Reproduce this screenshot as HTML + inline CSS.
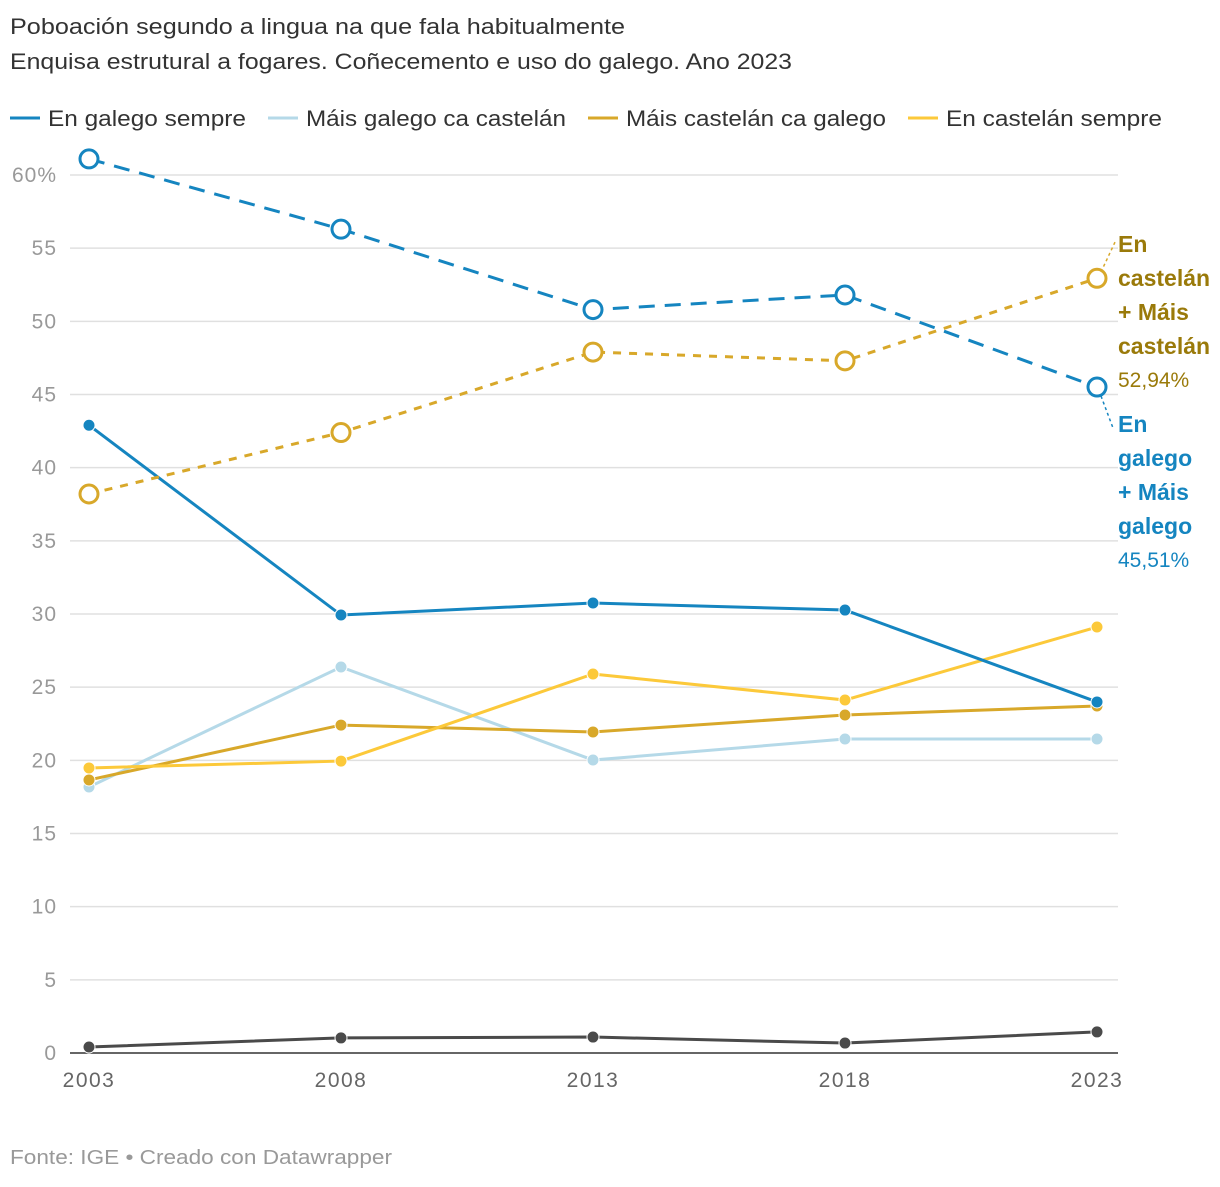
<!DOCTYPE html>
<html><head><meta charset="utf-8"><style>
body{margin:0;background:#fff;font-family:"Liberation Sans",sans-serif;}
svg text{font-family:"Liberation Sans",sans-serif;}
</style></head><body>
<svg id="c" width="1220" height="1182">
<text x="10" y="34" font-size="22" fill="#333" textLength="615" lengthAdjust="spacingAndGlyphs">Poboación segundo a lingua na que fala habitualmente</text>
<text x="10" y="69" font-size="22" fill="#333" textLength="782" lengthAdjust="spacingAndGlyphs">Enquisa estrutural a fogares. Coñecemento e uso do galego. Ano 2023</text>
<g>
<line x1="10" y1="118" x2="40" y2="118" stroke="#1585c0" stroke-width="3"/><text x="48" y="126" font-size="22" fill="#333" textLength="198" lengthAdjust="spacingAndGlyphs">En galego sempre</text>
<line x1="268" y1="118" x2="298" y2="118" stroke="#b5d9e8" stroke-width="3"/><text x="306" y="126" font-size="22" fill="#333" textLength="260" lengthAdjust="spacingAndGlyphs">Máis galego ca castelán</text>
<line x1="588" y1="118" x2="618" y2="118" stroke="#d8a82a" stroke-width="3"/><text x="626" y="126" font-size="22" fill="#333" textLength="260" lengthAdjust="spacingAndGlyphs">Máis castelán ca galego</text>
<line x1="908" y1="118" x2="938" y2="118" stroke="#fcc93a" stroke-width="3"/><text x="946" y="126" font-size="22" fill="#333" textLength="216" lengthAdjust="spacingAndGlyphs">En castelán sempre</text>
</g>
<g id="grid"></g><g id="marks"></g>
<text x="10" y="1164" font-size="20" fill="#999" textLength="382" lengthAdjust="spacingAndGlyphs">Fonte: IGE • Creado con Datawrapper</text>
<g font-size="23">
<text x="1118" y="252" fill="#9a7a0a" font-weight="bold">En</text>
<text x="1118" y="286" fill="#9a7a0a" font-weight="bold">castelán</text>
<text x="1118" y="320" fill="#9a7a0a" font-weight="bold">+ Máis</text>
<text x="1118" y="354" fill="#9a7a0a" font-weight="bold">castelán</text>
<text x="1118" y="387" fill="#9a7a0a" font-size="21">52,94%</text>
</g>
<g font-size="23">
<text x="1118" y="432" fill="#1585c0" font-weight="bold">En</text>
<text x="1118" y="466" fill="#1585c0" font-weight="bold">galego</text>
<text x="1118" y="500" fill="#1585c0" font-weight="bold">+ Máis</text>
<text x="1118" y="534" fill="#1585c0" font-weight="bold">galego</text>
<text x="1118" y="567" fill="#1585c0" font-size="21">45,51%</text>
</g>
<line x1="1101" y1="272" x2="1116" y2="240" stroke="#d8a82a" stroke-width="1.5" stroke-dasharray="3,3"/>
<line x1="1101" y1="396" x2="1113" y2="428" stroke="#1585c0" stroke-width="1.5" stroke-dasharray="3,3"/>
</svg>
<script>
const years=["2003","2008","2013","2018","2023"];
const yTicks=[0,5,10,15,20,25,30,35,40,45,50,55,60];
const galegoSempre=[42.9,29.93,30.75,30.27,23.99];
const maisGalego=[18.18,26.38,20.02,21.46,21.46];
const maisCastelan=[18.66,22.41,21.94,23.1,23.71];
const castelanSempre=[19.48,19.95,25.9,24.12,29.11];
const outras=[0.41,1.03,1.09,0.68,1.44];
const sumGalego=[61.1,56.3,50.8,51.8,45.51];
const sumCastelan=[38.2,42.4,47.9,47.3,52.94];
const NS="http://www.w3.org/2000/svg";
const xs=i=>89+i*252;
const ys=v=>1053-v*(878/60);
function mk(t,a,p){const e=document.createElementNS(NS,t);for(const k in a)e.setAttribute(k,a[k]);p.appendChild(e);return e;}
const g=document.getElementById('grid'),m=document.getElementById('marks');
yTicks.forEach(t=>{
 const l=mk('line',{x1:70,x2:1118,y1:ys(t),y2:ys(t),stroke:t===0?'#333':'#e0e0e0','stroke-width':1.5},g);
 
 
 const tx=mk('text',{x:57,y:ys(t)+7,'text-anchor':'end','font-size':21,'letter-spacing':1,fill:'#999'},g);
 tx.textContent=t===60?'60%':t;
 
 
});
years.forEach((y,i)=>{
 const tx=mk('text',{x:xs(i),y:1087,'text-anchor':'middle','font-size':21,'letter-spacing':1.5,fill:'#666'},g);
 tx.textContent=y;
 
 
});
function series(vals,col,name,dash,open){
 const pts=vals.map((v,i)=>xs(i)+','+ys(v)).join(' ');
 const pl=mk('polyline',{points:pts,fill:'none',stroke:col,'stroke-width':3,'stroke-dasharray':dash||'none'},m);
 
 
 vals.forEach((v,i)=>{
  const c=open?mk('circle',{cx:xs(i),cy:ys(v),r:9,fill:'#fff',stroke:col,'stroke-width':3},m):mk('circle',{cx:xs(i),cy:ys(v),r:6,fill:col,stroke:'#fff','stroke-width':1},m);
  
  
 });
}
series(outras,'#4a4a4a','outras');
series(maisGalego,'#b5d9e8','mais-galego');
series(maisCastelan,'#d8a82a','mais-castelan');
series(castelanSempre,'#fcc93a','castelan-sempre');
series(galegoSempre,'#1585c0','galego-sempre');
series(sumCastelan,'#d8a82a','sum-castelan','8,8',true);
series(sumGalego,'#1585c0','sum-galego','16,10',true);
</script>
</body></html>
